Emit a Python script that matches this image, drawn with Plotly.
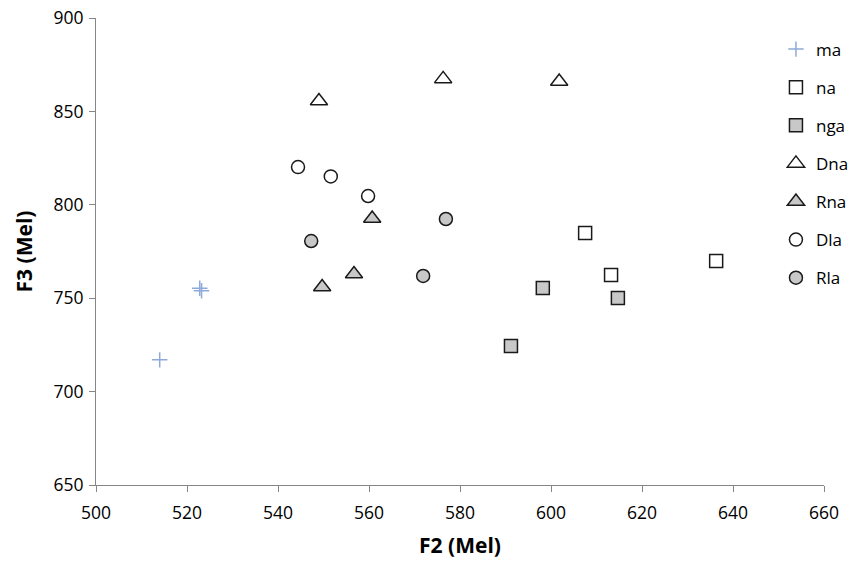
import plotly.graph_objects as go

ma_x = [514.0, 522.8, 523.2]
ma_y = [717.0, 755.3, 754.0]
na_x = [607.5, 613.2, 636.3]
na_y = [784.9, 762.4, 769.9]
nga_x = [591.2, 598.2, 614.7]
nga_y = [724.4, 755.5, 750.1]
dna_x = [549.0, 576.3, 601.8]
dna_y = [855.6, 867.4, 866.0]
rna_x = [549.7, 556.7, 560.7]
rna_y = [756.0, 763.0, 792.7]
dla_x = [544.4, 551.6, 559.8]
dla_y = [820.2, 815.2, 804.7]
rla_x = [547.3, 571.9, 576.9]
rla_y = [780.6, 761.9, 792.4]

GRAY = "#C8C8C8"
EDGE = "#1a1a1a"

series = [
    ("ma", ma_x, ma_y, "cross-thin-open", None, "#8EA9DB", 11, 1.5),
    ("na", na_x, na_y, "square", "white", EDGE, 13, 1.5),
    ("nga", nga_x, nga_y, "square", GRAY, EDGE, 13, 1.5),
    ("Dna", dna_x, dna_y, "triangle-up", "white", EDGE, 15, 1.5),
    ("Rna", rna_x, rna_y, "triangle-up", GRAY, EDGE, 15, 1.5),
    ("Dla", dla_x, dla_y, "circle", "white", EDGE, 13, 1.5),
    ("Rla", rla_x, rla_y, "circle", GRAY, EDGE, 13, 1.5),
]

fig = go.Figure()
for name, xs, ys, sym, fill, lc, size, lw in series:
    marker = dict(symbol=sym, size=size, line=dict(color=lc, width=lw))
    marker["color"] = fill if fill is not None else lc
    fig.add_trace(go.Scatter(x=xs, y=ys, mode="markers", name=name,
                             legendgroup=name, marker=marker))

axis_common = dict(
    showgrid=False, zeroline=False, showline=True, linecolor="#868686", linewidth=1,
    ticks="outside", ticklen=6, tickcolor="#868686", automargin=False,
    tickfont=dict(family="Open Sans", size=17.5, color="#000000"),
)

fig.update_layout(
    width=857, height=564,
    margin=dict(l=96, r=33, t=18, b=79, autoexpand=False),
    plot_bgcolor="white", paper_bgcolor="white",
    font=dict(family="Open Sans", color="#000000"),
    xaxis=dict(range=[500, 660], tickvals=[500, 520, 540, 560, 580, 600, 620, 640, 660],
               ticklabelstandoff=6,
               title=dict(text="<b>F2 (Mel)</b>", font=dict(size=21), standoff=15),
               **axis_common),
    yaxis=dict(range=[650, 900], tickvals=[650, 700, 750, 800, 850, 900],
               ticklabelstandoff=2,
               title=dict(text="<b>F3 (Mel)</b>", font=dict(size=21), standoff=15),
               **axis_common),
    legend=dict(x=0.934, y=0.971, xanchor="left", yanchor="top",
                bgcolor="rgba(0,0,0,0)", tracegroupgap=13, itemwidth=30,
                font=dict(family="Open Sans", size=17)),
)

fig.write_html("out.html", config={"displayModeBar": False},
               post_script="document.body.style.margin='0';document.body.style.overflow='hidden';")
